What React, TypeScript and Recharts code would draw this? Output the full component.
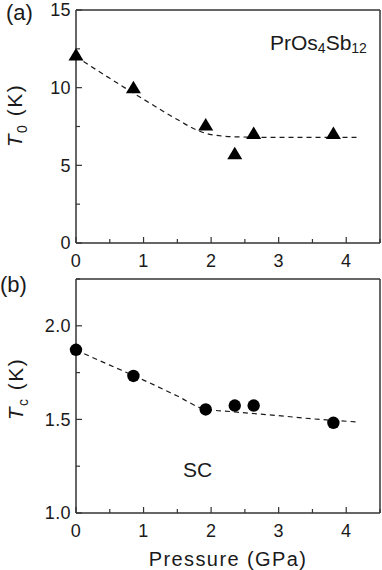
import React from 'react';
import { ComposedChart, Line, Scatter, XAxis, YAxis } from 'recharts';

const FONT = '"Liberation Sans", Arial, sans-serif';
const INK = '#1a1a1a';
const FRAME = '#333';

// pressure axis (shared by both panels)
const pressureTicks = [0, 0.5, 1, 1.5, 2, 2.5, 3, 3.5, 4, 4.5];
const pressureMajor = [0, 1, 2, 3, 4];

// (a) T0 vs pressure
const t0Points = [
  { p: 0, t: 12.1 },
  { p: 0.85, t: 10.0 },
  { p: 1.92, t: 7.6 },
  { p: 2.35, t: 5.75 },
  { p: 2.63, t: 7.05 },
  { p: 3.81, t: 7.05 },
];
const t0Guide = [
  { p: 0, t: 12.0 },
  { p: 0.5, t: 10.6 },
  { p: 1.0, t: 9.25 },
  { p: 1.5, t: 7.95 },
  { p: 1.8, t: 7.25 },
  { p: 2.0, t: 6.98 },
  { p: 2.4, t: 6.83 },
  { p: 3.0, t: 6.8 },
  { p: 3.6, t: 6.8 },
  { p: 4.2, t: 6.8 },
];
const t0Ticks = [0, 2.5, 5, 7.5, 10, 12.5, 15];
const t0Major = [0, 5, 10, 15];

// (b) Tc vs pressure
const tcPoints = [
  { p: 0, t: 1.872 },
  { p: 0.85, t: 1.732 },
  { p: 1.92, t: 1.553 },
  { p: 2.35, t: 1.574 },
  { p: 2.63, t: 1.574 },
  { p: 3.81, t: 1.482 },
];
const tcGuide = [
  { p: 0, t: 1.87 },
  { p: 0.5, t: 1.79 },
  { p: 1.0, t: 1.71 },
  { p: 1.5, t: 1.625 },
  { p: 1.9, t: 1.556 },
  { p: 2.35, t: 1.54 },
  { p: 3.0, t: 1.52 },
  { p: 3.5, t: 1.503 },
  { p: 4.15, t: 1.487 },
];
const tcTicks = [1, 1.25, 1.5, 1.75, 2, 2.25];
const tcMajor = [1, 1.5, 2];

type Side = 'bottom' | 'top' | 'left' | 'right';

// inward tick marks (major/minor) + optional label, drawn relative to the axis line
function makeTick(side: Side, majors: number[], margin: number, fmt?: (v: number) => string) {
  return (props: any) => {
    const { x, y, payload } = props;
    const v = payload.value;
    const major = majors.some((m) => Math.abs(m - v) < 1e-9);
    const len = major ? 6 : 4;
    let line = null;
    let label = null;
    if (side === 'bottom') {
      const ay = y - margin;
      line = <line x1={x} x2={x} y1={ay} y2={ay - len} />;
      if (fmt && major)
        label = <text x={x} y={y} dy="0.75em" textAnchor="middle">{fmt(v)}</text>;
    } else if (side === 'top') {
      const ay = y + margin;
      line = <line x1={x} x2={x} y1={ay} y2={ay + len} />;
    } else if (side === 'left') {
      const ax = x + margin;
      line = <line x1={ax} x2={ax + len} y1={y} y2={y} />;
      if (fmt && major)
        label = <text x={x} y={y} dy="0.36em" textAnchor="end">{fmt(v)}</text>;
    } else {
      const ax = x - margin;
      line = <line x1={ax} x2={ax - len} y1={y} y2={y} />;
    }
    return (
      <g>
        <g stroke={FRAME} strokeWidth={1.2}>{line}</g>
        <g fill={INK} fontSize={18} letterSpacing={0.4} fontFamily={FONT} stroke="none">{label}</g>
      </g>
    );
  };
}

function AxisTitle({ viewBox, sub, shift, base }: any) {
  const cx = viewBox.x + base;
  const cy = viewBox.y + viewBox.height / 2 + shift;
  return (
    <text
      transform={`translate(${cx},${cy}) rotate(-90)`}
      textAnchor="middle"
      fill={INK}
      fontSize={21}
      letterSpacing={1.5}
      fontFamily={FONT}
    >
      <tspan fontStyle="italic">T</tspan>
      <tspan fontSize={14} dy={5}>{sub}</tspan>
      <tspan dy={-5}> (K)</tspan>
    </text>
  );
}

const Triangle = (props: any) => {
  const { cx, cy } = props;
  return (
    <polygon
      points={`${cx},${cy - 7} ${cx + 7.5},${cy + 5.5} ${cx - 7.5},${cy + 5.5}`}
      fill="#000"
    />
  );
};

const Dot = (props: any) => <circle cx={props.cx} cy={props.cy} r={6.2} fill="#000" />;

const axisLine = { stroke: FRAME, strokeWidth: 1.5 };
const intFmt = (v: number) => String(v);
const oneDec = (v: number) => v.toFixed(1);

function Panel({
  height, marginTop, bottomHeight, points, guide, yDomain, yTicks, yMajor, yFmt, shape, sub, titleShift, titleBase,
}: any) {
  return (
    <ComposedChart width={382} height={height} margin={{ top: marginTop, right: 0, bottom: 0, left: 0 }}>
      <XAxis
        xAxisId="b"
        dataKey="p"
        type="number"
        domain={[0, 4.5]}
        ticks={pressureTicks}
        interval={0}
        orientation="bottom"
        height={bottomHeight}
        tickSize={0}
        tickMargin={10}
        axisLine={axisLine}
        tickLine={false}
        tick={makeTick('bottom', pressureMajor, 10, intFmt)}
      />
      <XAxis
        xAxisId="t"
        type="number"
        domain={[0, 4.5]}
        ticks={pressureTicks}
        interval={0}
        orientation="top"
        height={2}
        tickSize={0}
        tickMargin={0}
        axisLine={axisLine}
        tickLine={false}
        tick={makeTick('top', pressureMajor, 0)}
      />
      <YAxis
        yAxisId="l"
        type="number"
        domain={yDomain}
        ticks={yTicks}
        interval={0}
        width={76}
        tickSize={0}
        tickMargin={5}
        axisLine={axisLine}
        tickLine={false}
        tick={makeTick('left', yMajor, 5, yFmt)}
        label={(p: any) => <AxisTitle viewBox={p.viewBox} sub={sub} shift={titleShift} base={titleBase} />}
      />
      <YAxis
        yAxisId="r"
        type="number"
        orientation="right"
        domain={yDomain}
        ticks={yTicks}
        interval={0}
        width={2}
        tickSize={0}
        tickMargin={0}
        axisLine={axisLine}
        tickLine={false}
        tick={makeTick('right', yMajor, 0)}
      />
      <Line
        xAxisId="b"
        yAxisId="l"
        data={guide}
        dataKey="t"
        type="monotone"
        stroke={INK}
        strokeWidth={1.2}
        strokeDasharray="5 4"
        dot={false}
        activeDot={false}
        isAnimationActive={false}
      />
      <Scatter
        xAxisId="b"
        yAxisId="l"
        data={points}
        dataKey="t"
        shape={shape}
        isAnimationActive={false}
      />
    </ComposedChart>
  );
}

export default function App() {
  const text = { position: 'absolute' as const, fontFamily: FONT, color: INK, lineHeight: 1 };
  const sub = { fontSize: 14, verticalAlign: -3 };
  return (
    <div style={{ position: 'absolute', left: 0, top: 0, width: 382, height: 570, background: '#fff' }}>
      <div style={{ position: 'absolute', left: 0, top: 0 }}>
        <Panel
          height={275}
          marginTop={8}
          bottomHeight={32}
          points={t0Points}
          guide={t0Guide}
          yDomain={[0, 15]}
          yTicks={t0Ticks}
          yMajor={t0Major}
          yFmt={intFmt}
          shape={Triangle}
          sub="0"
          titleShift={-11}
          titleBase={22}
        />
      </div>
      <div style={{ position: 'absolute', left: 0, top: 270 }}>
        <Panel
          height={300}
          marginTop={7}
          bottomHeight={57}
          points={tcPoints}
          guide={tcGuide}
          yDomain={[1, 2.25]}
          yTicks={tcTicks}
          yMajor={tcMajor}
          yFmt={oneDec}
          shape={Dot}
          sub="c"
          titleShift={-7}
          titleBase={23}
        />
      </div>
      <div style={{ ...text, left: 6, top: 2, fontSize: 22 }}>(a)</div>
      <div style={{ ...text, left: 0, top: 274, fontSize: 22 }}>(b)</div>
      <div style={{ ...text, left: 270, top: 32, fontSize: 21 }}>
        PrOs<sub style={sub}>4</sub>Sb<sub style={sub}>12</sub>
      </div>
      <div style={{ ...text, left: 183, top: 459, fontSize: 21 }}>SC</div>
      <div style={{ ...text, left: 76, top: 549, width: 304, textAlign: 'center', fontSize: 20, letterSpacing: 1.4 }}>
        Pressure (GPa)
      </div>
    </div>
  );
}
